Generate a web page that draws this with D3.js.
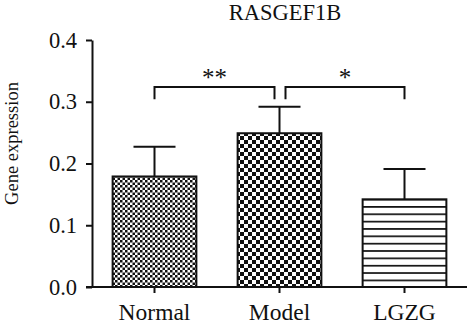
<!DOCTYPE html>
<html>
<head>
<meta charset="utf-8">
<script src="https://cdn.jsdelivr.net/npm/d3@7"></script>
<style>
  html, body { margin: 0; padding: 0; background: #fff; }
  svg { display: block; }
  text { font-family: "Liberation Serif", "Times New Roman", serif; fill: #111; }
</style>
</head>
<body>
<svg id="chart" width="471" height="329"></svg>
<script>
// Group names, means and error (SD) for RASGEF1B expression
const categories = ["Normal", "Model", "LGZG"];
const means = [0.179, 0.249, 0.142];
const errors = [0.048, 0.043, 0.049];
const yTicks = [0.0, 0.1, 0.2, 0.3, 0.4];
const title = "RASGEF1B";
const yLabel = "Gene expression";
// significance brackets between group pairs
const compFrom = [0, 1];
const compTo = [1, 2];
const compLabels = ["**", "*"];

const svg = d3.select("#chart");
const ink = "#111";
const serif = "Liberation Serif";

const x = d3.scaleBand().domain(categories).range([92, 467]).paddingInner(0.33).paddingOuter(0.165);
const y = d3.scaleLinear().domain([0, 0.4]).range([287, 40]);

// fill patterns: fine checker, coarse checker, horizontal stripes
const defs = svg.append("defs");
const fine = defs.append("pattern").attr("id", "p-fine").attr("patternUnits", "userSpaceOnUse")
  .attr("width", 5).attr("height", 5);
fine.append("rect").attr("width", 5).attr("height", 5).attr("fill", "#fff");
fine.append("rect").attr("width", 2.5).attr("height", 2.5).attr("fill", ink);
fine.append("rect").attr("x", 2.5).attr("y", 2.5).attr("width", 2.5).attr("height", 2.5).attr("fill", ink);

const coarse = defs.append("pattern").attr("id", "p-coarse").attr("patternUnits", "userSpaceOnUse")
  .attr("width", 8).attr("height", 8);
coarse.append("rect").attr("width", 8).attr("height", 8).attr("fill", "#fff");
coarse.append("rect").attr("width", 4).attr("height", 4).attr("fill", ink);
coarse.append("rect").attr("x", 4).attr("y", 4).attr("width", 4).attr("height", 4).attr("fill", ink);

const stripePeriod = 7.35;
const stripes = defs.append("pattern").attr("id", "p-stripes").attr("patternUnits", "userSpaceOnUse")
  .attr("width", 10).attr("height", stripePeriod).attr("y", y(0) - 0.1);
stripes.append("rect").attr("width", 10).attr("height", stripePeriod).attr("fill", "#fff");
stripes.append("rect").attr("width", 10).attr("height", 1.7).attr("fill", ink);

const fills = ["url(#p-fine)", "url(#p-coarse)", "url(#p-stripes)"];

// bars
svg.append("g").selectAll("rect").data(categories).join("rect")
  .attr("x", d => x(d))
  .attr("y", (d, i) => y(means[i]))
  .attr("width", x.bandwidth())
  .attr("height", (d, i) => y(0) - y(means[i]))
  .attr("fill", (d, i) => fills[i])
  .attr("stroke", ink).attr("stroke-width", 2);

// error bars (upper only)
const eb = svg.append("g").attr("stroke", ink).attr("stroke-width", 2);
categories.forEach((c, i) => {
  const cx = x(c) + x.bandwidth() / 2;
  eb.append("line").attr("x1", cx).attr("x2", cx)
    .attr("y1", y(means[i])).attr("y2", y(means[i] + errors[i]));
  eb.append("line").attr("x1", cx - 21).attr("x2", cx + 21)
    .attr("y1", y(means[i] + errors[i])).attr("y2", y(means[i] + errors[i]));
});

// y axis
const yAxis = svg.append("g").attr("transform", "translate(92,0)")
  .call(d3.axisLeft(y).tickValues(yTicks).tickFormat(d3.format(".1f")).tickSize(6).tickSizeOuter(0).tickPadding(9));
yAxis.select(".domain").attr("stroke", ink).attr("stroke-width", 2);
yAxis.selectAll(".tick line").attr("stroke", ink).attr("stroke-width", 2);
yAxis.selectAll(".tick text").attr("font-size", 22.5).attr("font-family", serif).attr("fill", ink);

// x axis
const xAxis = svg.append("g").attr("transform", "translate(0,287)")
  .call(d3.axisBottom(x).tickSize(6).tickSizeOuter(0).tickPadding(10));
xAxis.select(".domain").remove();
xAxis.append("line").attr("x1", 86).attr("x2", 467).attr("stroke", ink).attr("stroke-width", 2);
xAxis.selectAll(".tick line").attr("stroke", ink).attr("stroke-width", 2);
xAxis.selectAll(".tick text").attr("font-size", 23.5).attr("font-family", serif).attr("fill", ink);

// title
svg.append("text").attr("x", 285).attr("y", 20).attr("text-anchor", "middle")
  .attr("font-size", 22.5).attr("font-family", serif).text(title);

// y label
svg.append("text").attr("transform", "translate(18,143.5) rotate(-90)")
  .attr("text-anchor", "middle").attr("font-size", 18.5).attr("font-family", serif).text(yLabel);

// significance brackets
const bracketY = y(0.324), legY = y(0.304);
const br = svg.append("g");
compFrom.forEach((f, k) => {
  const cf = x(categories[f]) + x.bandwidth() / 2;
  const ct = x(categories[compTo[k]]) + x.bandwidth() / 2;
  const x1 = k === 0 ? cf : cf + 6;
  const x2 = k === 0 ? ct - 5 : ct;
  br.append("path")
    .attr("d", `M${x1},${legY}V${bracketY}H${x2}V${legY}`)
    .attr("fill", "none").attr("stroke", ink).attr("stroke-width", 2);
  br.append("text").attr("x", (x1 + x2) / 2).attr("y", bracketY - 1)
    .attr("text-anchor", "middle").attr("font-size", 25).attr("font-family", serif).text(compLabels[k]);
});
</script>
</body>
</html>
